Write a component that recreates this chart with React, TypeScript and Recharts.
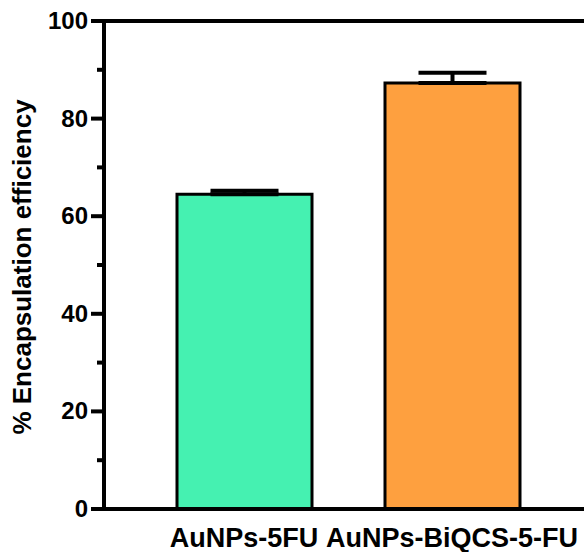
import React from "react";
import {
  BarChart,
  Bar,
  Cell,
  XAxis,
  YAxis,
  ErrorBar,
  ReferenceLine,
} from "recharts";

const categories = ["AuNPs-5FU", "AuNPs-BiQCS-5-FU"];
const efficiency = [64.5, 87.3];
const errors = [0.7, 2.1];
const yTicks = [0, 10, 20, 30, 40, 50, 60, 70, 80, 90, 100];
const COLORS = ["#45F1B1", "#FEA03F"];

const data = categories.map((name, i) => ({
  name,
  value: efficiency[i],
  err: [0, errors[i]],
}));

const FONT = "'Liberation Sans', Arial, Helvetica, sans-serif";

const YTick = (props: any) => {
  const { x, y, payload } = props;
  const axisX = x + 16;
  const major = payload.value % 20 === 0;
  return (
    <g>
      <line
        x1={axisX - (major ? 13 : 7)}
        x2={axisX}
        y1={y}
        y2={y}
        stroke="#000"
        strokeWidth={4}
      />
      {major && (
        <text
          x={x}
          y={y}
          dy={8}
          textAnchor="end"
          fontFamily={FONT}
          fontWeight="bold"
          fontSize={24}
          fill="#000"
        >
          {payload.value}
        </text>
      )}
    </g>
  );
};

const XTick = (props: any) => {
  const { x, payload } = props;
  return (
    <text
      x={x}
      y={547}
      textAnchor="middle"
      fontFamily={FONT}
      fontWeight="bold"
      fontSize={27}
      fill="#000"
    >
      {payload.value}
    </text>
  );
};

const App: React.FC = () => {
  return (
    <div style={{ position: "absolute", left: 0, top: 0 }}>
      <BarChart
        width={584}
        height={552}
        data={data}
        margin={{ top: 21, right: 0, bottom: 0, left: 0 }}
      >
        <XAxis
          dataKey="name"
          height={43}
          axisLine={{ stroke: "#000", strokeWidth: 4 }}
          tickLine={false}
          padding={{ left: 36, right: 28 }}
          tick={<XTick />}
          interval={0}
        />
        <YAxis
          width={104}
          domain={[0, 100]}
          ticks={yTicks}
          interval={0}
          axisLine={{ stroke: "#000", strokeWidth: 4 }}
          tickLine={false}
          tickSize={12}
          tickMargin={4}
          tick={<YTick />}
          label={{
            value: "% Encapsulation efficiency",
            angle: -90,
            position: "insideLeft",
            offset: 0,
            style: {
              fontFamily: FONT,
              fontWeight: "bold",
              fontSize: 26,
              fill: "#000",
              textAnchor: "middle",
            },
            dx: 22,
            dy: 2,
          }}
        />
        <ReferenceLine y={100} stroke="#000" strokeWidth={4} />
        <Bar
          dataKey="value"
          barSize={135}
          stroke="#000"
          strokeWidth={3}
          isAnimationActive={false}
        >
          {data.map((_, i) => (
            <Cell key={`cell-${i}`} fill={COLORS[i]} />
          ))}
          <ErrorBar
            dataKey="err"
            width={34}
            stroke="#000"
            strokeWidth={4}
            isAnimationActive={false}
          />
        </Bar>
      </BarChart>
    </div>
  );
};

export default App;
